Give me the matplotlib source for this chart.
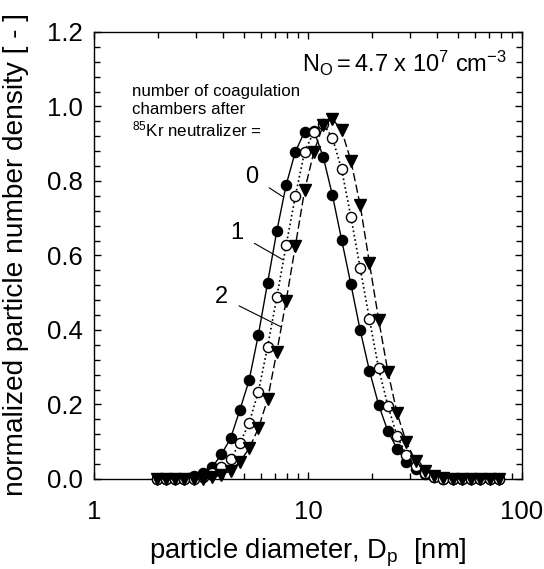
import numpy as np
import matplotlib
matplotlib.use("Agg")
import matplotlib.pyplot as plt
from matplotlib.ticker import FixedLocator, MultipleLocator, NullFormatter, FormatStrFormatter

plt.rcParams['font.family'] = ['Liberation Sans', 'DejaVu Sans']
plt.rcParams['mathtext.fontset'] = 'custom'
plt.rcParams['mathtext.rm'] = 'Liberation Sans'
plt.rcParams['mathtext.it'] = 'Liberation Sans'

# particle diameter channels [nm]
diameter = [1.96, 2.165, 2.392, 2.642, 2.919, 3.225, 3.562, 3.935, 4.347, 4.802,
            5.305, 5.861, 6.474, 7.152, 7.901, 8.729, 9.642, 10.65, 11.77, 13.0,
            14.36, 15.86, 17.52, 19.36, 21.38, 23.62, 26.09, 28.83, 31.84, 35.18,
            38.86, 42.93, 47.42, 52.39, 57.87, 63.93, 70.63, 78.02]

# normalized number density for 0, 1 and 2 coagulation chambers
n_chamber0 = [0, 0, 0, 0, 0.008, 0.017, 0.031, 0.066, 0.109, 0.185,
              0.265, 0.387, 0.527, 0.666, 0.789, 0.879, 0.932, 0.935, 0.865, 0.762,
              0.642, 0.523, 0.400, 0.291, 0.199, 0.128, 0.081, 0.046, 0.026, 0.014,
              0.006, 0, 0, 0, 0, 0, 0, 0]
n_chamber1 = [0, 0, 0, 0, 0, 0.006, 0.017, 0.031, 0.054, 0.096,
              0.150, 0.234, 0.355, 0.489, 0.627, 0.760, 0.879, 0.932, 0.953, 0.916,
              0.831, 0.704, 0.567, 0.429, 0.297, 0.196, 0.115, 0.064, 0.035, 0.015,
              0.005, 0, 0, 0, 0, 0, 0, 0]
n_chamber2 = [0, 0, 0, 0, 0, 0, 0.004, 0.011, 0.022, 0.046,
              0.082, 0.136, 0.214, 0.342, 0.478, 0.626, 0.775, 0.878, 0.950, 0.967,
              0.936, 0.854, 0.736, 0.580, 0.428, 0.288, 0.176, 0.098, 0.048, 0.022,
              0.009, 0.003, 0, 0, 0, 0, 0, 0]

x_ticks = [1, 10, 100]
x_ticklabels = ['1', '10', '100']
y_ticks = [0.0, 0.2, 0.4, 0.6, 0.8, 1.0, 1.2]

fig = plt.figure(figsize=(5.44, 5.69), dpi=100)
ax = fig.add_axes([0.1728, 0.1582, 0.7868, 0.7856])

ms = 7.3
ax.plot(diameter, n_chamber0, '-', color='black', lw=1.0, marker='o', ms=ms,
        mfc='black', mec='black', zorder=3, clip_on=False)
ax.plot(diameter, n_chamber1, ':', color='black', lw=1.2, marker='o', ms=ms,
        mfc='white', mec='black', mew=1.0, zorder=4, clip_on=False)
ax.plot(diameter, n_chamber2, color='black', lw=1.0, dashes=(6, 2.5), marker='v', ms=8,
        mfc='black', mec='black', zorder=5, clip_on=False)

ax.set_xscale('log')
ax.set_xlim(1, 100)
ax.set_ylim(0, 1.2)
ax.xaxis.set_major_locator(FixedLocator(x_ticks))
ax.set_xticklabels(x_ticklabels)
ax.xaxis.set_minor_locator(FixedLocator([m * d for d in (1, 10) for m in range(2, 10)]))
ax.xaxis.set_minor_formatter(NullFormatter())
ax.set_yticks(y_ticks)
ax.yaxis.set_major_formatter(FormatStrFormatter('%.1f'))
ax.yaxis.set_minor_locator(MultipleLocator(0.04))

ax.tick_params(which='both', direction='in', top=True, right=True, labelsize=18.5, width=1)
ax.tick_params(which='major', length=5)
ax.tick_params(which='minor', length=4)
ax.tick_params(axis='x', which='major', pad=15)
ax.tick_params(axis='y', which='major', pad=8)
for s in ax.spines.values():
    s.set_linewidth(1.0)

ax.set_xlabel(r'particle diameter, D$_\mathregular{p}$  [nm]', fontsize=19.7, labelpad=9)
ax.set_ylabel('normalized particle number density [ - ]', fontsize=20.2)
ax.yaxis.set_label_coords(-0.152, 0.502)

ax.text(0.965, 1.093, r'$\mathregular{N_O = 4.7\ x\ 10^7\ cm^{-3}}$', transform=ax.get_yaxis_transform(),
        ha='right', va='baseline', fontsize=17)
ax.text(1.5, 1.06, 'number of coagulation\nchambers after\n$^{85}$Kr neutralizer =',
        ha='left', va='top', fontsize=12.2, linespacing=1.2)

# curve labels with leader lines
ax.annotate('0', xy=(7.62, 0.758), xytext=(5.46, 0.812), ha='center', va='center', fontsize=17,
            arrowprops=dict(arrowstyle='-', lw=0.8, color='black', shrinkA=7, shrinkB=0))
ax.annotate('1', xy=(7.67, 0.588), xytext=(4.64, 0.660), ha='center', va='center', fontsize=17,
            arrowprops=dict(arrowstyle='-', lw=0.8, color='black', shrinkA=7, shrinkB=0))
ax.annotate('2', xy=(7.45, 0.409), xytext=(3.92, 0.489), ha='center', va='center', fontsize=17,
            arrowprops=dict(arrowstyle='-', lw=0.8, color='black', shrinkA=7, shrinkB=0))

fig.savefig('out.png', dpi=100)
